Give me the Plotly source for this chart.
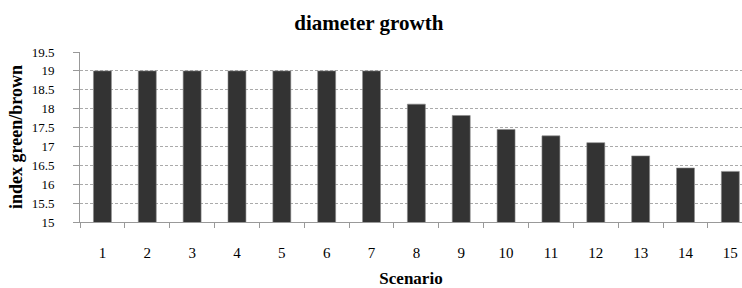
import plotly.graph_objects as go

scenarios = [str(i) for i in range(1, 16)]
index_values = [19, 19, 19, 19, 19, 19, 19, 18.12, 17.82, 17.45, 17.28, 17.10, 16.75, 16.43, 16.34]
y_ticks = [15, 15.5, 16, 16.5, 17, 17.5, 18, 18.5, 19, 19.5]
y_tick_text = ["15", "15.5", "16", "16.5", "17", "17.5", "18", "18.5", "19", "19.5"]

FONT = "Liberation Serif, Times New Roman, serif"

fig = go.Figure(go.Bar(
    x=scenarios, y=index_values,
    marker=dict(color="#333333", line=dict(color="#8a8a8a", width=0.6)),
))

fig.update_layout(
    width=742, height=288,
    margin=dict(l=80, r=0, t=52, b=66, autoexpand=False),
    paper_bgcolor="white", plot_bgcolor="white",
    bargap=0.6,
    showlegend=False,
    font=dict(family=FONT, color="black"),
    title=dict(text="<b>diameter growth</b>", x=0.497, xanchor="center",
               y=0.923, yanchor="middle", font=dict(size=21, family=FONT)),
)

fig.update_xaxes(
    type="category", range=[-0.5, 14.26], automargin=False,
    tickson="boundaries", ticks="outside", ticklen=5, tickcolor="#999999",
    showline=True, linecolor="#999999", linewidth=1,
    showgrid=False, tickfont=dict(size=15, family=FONT),
    ticklabelstandoff=17,
    title=dict(text="<b>Scenario</b>", font=dict(size=17, family=FONT), standoff=12),
)
fig.update_yaxes(
    range=[15, 19.5], tickvals=y_ticks, ticktext=y_tick_text, automargin=False,
    ticks="outside", ticklen=6, tickcolor="#999999",
    showline=True, linecolor="#999999", linewidth=1,
    showgrid=True, gridcolor="#aaaaaa", griddash="3px,2px", gridwidth=1,
    zeroline=False, tickfont=dict(size=13, family=FONT),
    ticklabelstandoff=16,
    title=dict(text="<b>index green/brown</b>", font=dict(size=18, family=FONT), standoff=4),
)

fig.write_html("out.html", config={"displayModeBar": False},
               post_script="document.body.style.margin='0';")
